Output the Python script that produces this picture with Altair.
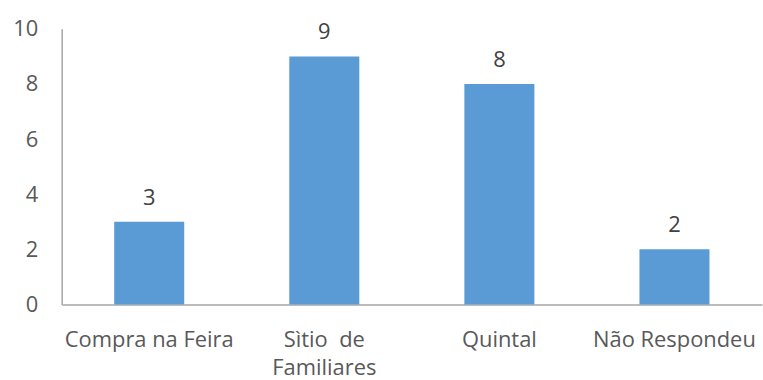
import altair as alt
import pandas as pd

categories = ["Compra na Feira", "Sìtio  de Familiares", "Quintal", "Não Respondeu"]
values = [3, 9, 8, 2]
y_ticks = [0, 2, 4, 6, 8, 10]

df = pd.DataFrame({"cat": categories, "val": values})

FONT = "Open Sans"
GREY = "#595959"
FS = 22

x = alt.X(
    "cat:N",
    sort=categories,
    title=None,
    scale=alt.Scale(paddingInner=0.6, paddingOuter=0.3),
    axis=alt.Axis(
        labelAngle=0,
        labelFont=FONT,
        labelFontSize=22,
        labelColor=GREY,
        labelPadding=25,
        labelLineHeight=28,
        labelBaseline="top",
        labelOverlap=False,
        ticks=False,
        domainColor="#a6a6a6",
        domainWidth=1.5,
        labelExpr="datum.label == 'Sìtio  de Familiares' ? ['Sìtio\u00a0\u00a0de', 'Familiares'] : datum.label",
    ),
)

y = alt.Y(
    "val:Q",
    title=None,
    scale=alt.Scale(domain=[0, 10], nice=False),
    axis=alt.Axis(
        values=y_ticks,
        grid=False,
        ticks=False,
        labelFont=FONT,
        labelFontSize=FS,
        labelColor=GREY,
        labelPadding=24,
        domainColor="#a6a6a6",
        domainWidth=1.5,
    ),
)

bars = alt.Chart(df).mark_bar(color="#5B9BD5").encode(x=x, y=y)
labels = alt.Chart(df).mark_text(
    dy=-12, font=FONT, fontSize=FS, color="#404040", baseline="bottom"
).encode(x=alt.X("cat:N", sort=categories), y="val:Q", text="val:Q")

chart = (
    alt.layer(bars, labels)
    .properties(
        width=704,
        height=277,
        autosize=alt.AutoSizeParams(type="none"),
        padding={"left": 62, "top": 28, "right": 1, "bottom": 75},
        background="white",
    )
    .configure_view(stroke=None)
)

chart.save("out.html", embed_options={"renderer": "svg", "actions": False})
